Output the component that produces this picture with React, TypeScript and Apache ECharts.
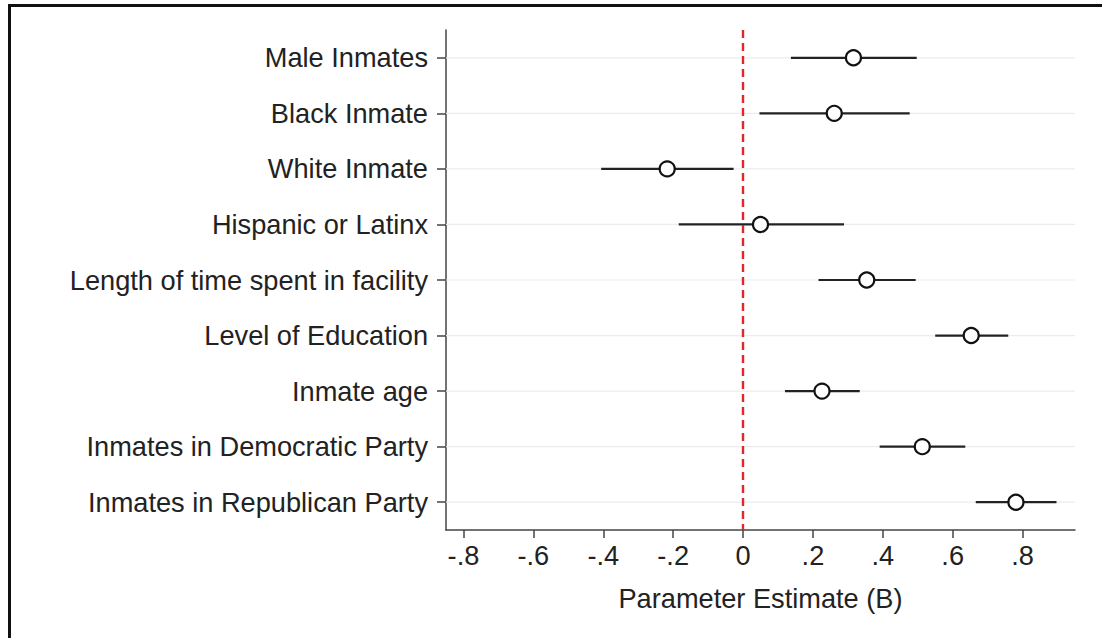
import React, { useEffect, useRef } from "react";
import * as echarts from "echarts";

const categories = [
  "Male Inmates",
  "Black Inmate",
  "White Inmate",
  "Hispanic or Latinx",
  "Length of time spent in facility",
  "Level of Education",
  "Inmate age",
  "Inmates in Democratic Party",
  "Inmates in Republican Party",
];
const estimates = [0.316, 0.261, -0.217, 0.05, 0.354, 0.653, 0.226, 0.513, 0.781];
const lowerCI = [0.137, 0.047, -0.406, -0.184, 0.216, 0.55, 0.12, 0.391, 0.666];
const upperCI = [0.497, 0.477, -0.027, 0.289, 0.494, 0.759, 0.334, 0.636, 0.897];
const tickValues = [-0.8, -0.6, -0.4, -0.2, 0, 0.2, 0.4, 0.6, 0.8];

const FONT = "Liberation Sans, Arial, sans-serif";
const FS = 27.2;

function fmt(v: number): string {
  if (Math.abs(v) < 1e-9) return "0";
  const s = Math.abs(v).toFixed(1).replace(/^0/, "");
  return (v < 0 ? "-" : "") + s;
}

export default function App() {
  const ref = useRef<HTMLDivElement>(null);
  useEffect(() => {
    if (!ref.current) return;
    const chart = echarts.init(ref.current, undefined, { renderer: "svg" });
    const ciData = categories.map((_, i) => [lowerCI[i], upperCI[i], i]);
    const ptData = categories.map((_, i) => [estimates[i], i]);
    chart.setOption({
      animation: false,
      backgroundColor: "#ffffff",
      grid: { left: 446, right: 27, top: 30, bottom: 108, containLabel: false },
      xAxis: {
        type: "value",
        min: -0.85,
        max: 0.95,
        name: "Parameter Estimate (B)",
        nameLocation: "middle",
        nameGap: 55,
        nameTextStyle: { fontFamily: FONT, fontSize: FS, color: "#222" },
        axisLine: { show: true, onZero: false, lineStyle: { color: "#444", width: 1.5 } },
        axisTick: { show: true, length: 8, customValues: tickValues, lineStyle: { color: "#444", width: 1.5 } },
        axisLabel: {
          customValues: tickValues,
          formatter: (v: number) => fmt(v),
          fontFamily: FONT,
          fontSize: FS,
          color: "#222",
          margin: 12,
        },
        splitLine: { show: false },
      },
      yAxis: {
        type: "category",
        data: categories,
        inverse: true,
        boundaryGap: true,
        axisLine: { show: true, onZero: false, lineStyle: { color: "#444", width: 1.5 } },
        axisTick: { show: true, alignWithLabel: true, length: 9, lineStyle: { color: "#444", width: 1.5 } },
        axisLabel: { fontFamily: FONT, fontSize: FS, color: "#222", margin: 18 },
        splitLine: { show: false },
      },
      graphic: [
        { type: "line", shape: { x1: 8, y1: 5.5, x2: 1102, y2: 5.5 }, style: { stroke: "#111", lineWidth: 3 } },
        { type: "line", shape: { x1: 9.5, y1: 4, x2: 9.5, y2: 638 }, style: { stroke: "#111", lineWidth: 3 } },
      ],
      series: [
        {
          type: "custom",
          data: ciData,
          encode: { x: [0, 1], y: 2 },
          z: 2,
          silent: true,
          renderItem: (params: any, api: any) => {
            const lo = api.value(0);
            const hi = api.value(1);
            const cat = api.value(2);
            const p1 = api.coord([lo, cat]);
            const p2 = api.coord([hi, cat]);
            const cs = params.coordSys;
            return {
              type: "group",
              children: [
                {
                  type: "line",
                  shape: { x1: cs.x, y1: p1[1], x2: cs.x + cs.width, y2: p1[1] },
                  style: { stroke: "#ececec", lineWidth: 1.2 },
                  z2: 0,
                },
                {
                  type: "line",
                  shape: { x1: p1[0], y1: p1[1], x2: p2[0], y2: p2[1] },
                  style: { stroke: "#222", lineWidth: 2.2 },
                  z2: 2,
                },
              ],
            };
          },
        },
        {
          type: "scatter",
          data: ptData,
          symbol: "circle",
          symbolSize: 15,
          z: 5,
          itemStyle: { color: "#ffffff", borderColor: "#111", borderWidth: 2.2, opacity: 1 },
          markLine: {
            silent: true,
            symbol: ["none", "none"],
            label: { show: false },
            lineStyle: { color: "#e3262e", type: [8, 5], width: 2.4 },
            data: [{ xAxis: 0 }],
            z: 3,
          },
        },
      ],
    });
    return () => chart.dispose();
  }, []);
  return (
    <div
      ref={ref}
      style={{ position: "absolute", left: 0, top: 0, width: 1102, height: 638 }}
    />
  );
}
